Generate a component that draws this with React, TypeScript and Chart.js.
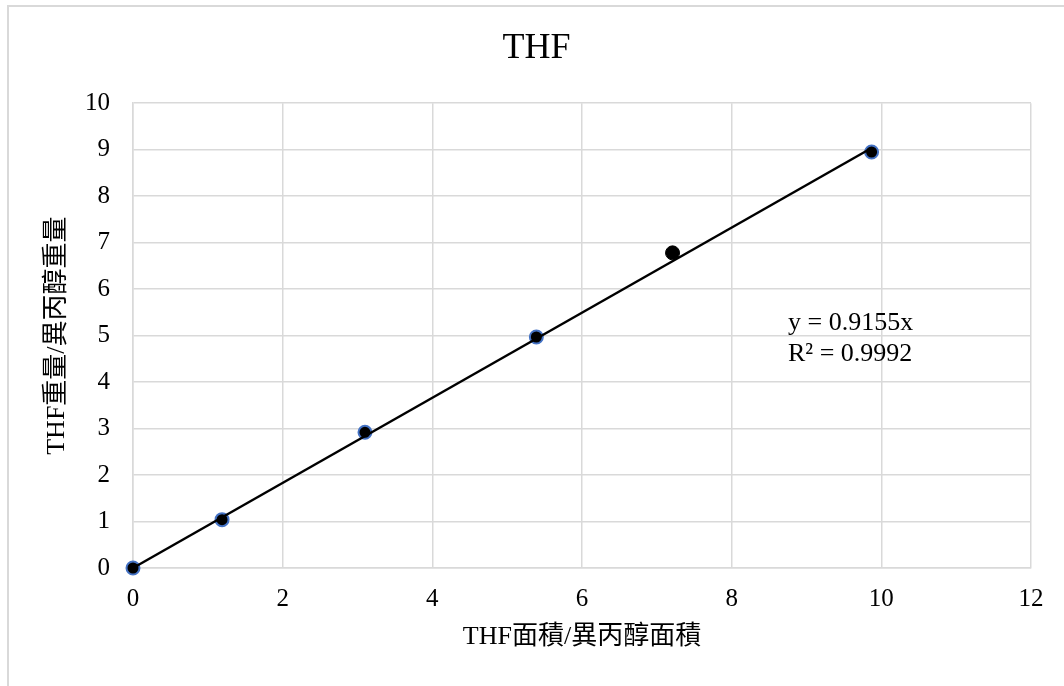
import { useEffect, useRef } from "react";
import { Chart, registerables } from "chart.js";

Chart.register(...registerables);

// Calibration points: THF area / IPA area vs THF weight / IPA weight
const areaRatios = [0, 1.19, 3.1, 5.39, 7.21, 9.87];
const weightRatios = [0, 1.04, 2.92, 4.97, 6.78, 8.95];

// Linear fit through the origin
const slope = 0.9155;
const rSquared = 0.9992;

// Axis ranges and tick steps
const xTicks = { min: 0, max: 12, step: 2 };
const yTicks = { min: 0, max: 10, step: 1 };

const chartTitle = "THF";
const xTitle = "THF面積/異丙醇面積";
const yTitle = "THF重量/異丙醇重量";

const SERIF = '"Liberation Serif", "Times New Roman", serif';
const LABEL_FONT = '"Liberation Serif", "Noto Sans CJK TC", serif';
const GRID = "#d9d9d9";
const MARKER_RING = "#4472C4";
const UNRINGED_POINT = 4;

const equationLabel = {
  id: "equationLabel",
  afterDatasetsDraw(chart: Chart) {
    const { ctx, chartArea } = chart;
    ctx.save();
    ctx.font = `26px ${SERIF}`;
    ctx.fillStyle = "#000000";
    ctx.textAlign = "left";
    ctx.textBaseline = "alphabetic";
    const x = chartArea.left + 655;
    const y = chartArea.top + 227;
    ctx.fillText(`y = ${slope}x`, x, y);
    ctx.fillText(`R² = ${rSquared}`, x, y + 31);
    ctx.restore();
  },
};

export default function App() {
  const canvasRef = useRef<HTMLCanvasElement | null>(null);

  useEffect(() => {
    const canvas = canvasRef.current;
    if (!canvas) return;

    const points = areaRatios.map((x, i) => ({ x, y: weightRatios[i] }));
    const xEnd = Math.max(...areaRatios);
    const fitLine = [
      { x: 0, y: 0 },
      { x: xEnd, y: slope * xEnd },
    ];

    const chart = new Chart(canvas, {
      type: "scatter",
      data: {
        datasets: [
          {
            label: "線性 (THF)",
            data: fitLine,
            showLine: true,
            borderColor: "#000000",
            borderWidth: 2.5,
            pointRadius: 0,
            fill: false,
            clip: false,
          },
          {
            label: "THF",
            data: points,
            clip: false,
            backgroundColor: "#000000",
            pointRadius: (c: any) => (c.dataIndex === UNRINGED_POINT ? 7 : 6.5),
            pointBorderWidth: (c: any) => (c.dataIndex === UNRINGED_POINT ? 1 : 2),
            pointBorderColor: (c: any) =>
              c.dataIndex === UNRINGED_POINT ? "#000000" : MARKER_RING,
          },
        ],
      },
      options: {
        responsive: false,
        animation: false,
        layout: { padding: { left: 42, right: 33, top: 0, bottom: 33 } },
        plugins: {
          legend: { display: false },
          tooltip: { enabled: false },
          title: {
            display: true,
            text: chartTitle,
            color: "#000000",
            font: { family: SERIF, size: 36, weight: "normal" },
            padding: { top: 27, bottom: 33 },
          },
        },
        scales: {
          x: {
            type: "linear",
            min: xTicks.min,
            max: xTicks.max,
            ticks: {
              stepSize: xTicks.step,
              color: "#000000",
              font: { family: SERIF, size: 25 },
              padding: 16,
            },
            grid: { color: GRID, lineWidth: 1.5, drawTicks: false },
            border: { color: GRID, width: 1.5 },
            title: {
              display: true,
              text: xTitle,
              color: "#000000",
              font: { family: LABEL_FONT, size: 26 },
              padding: 0,
            },
            afterFit: (s: any) => {
              s.height = 85;
            },
          },
          y: {
            type: "linear",
            min: yTicks.min,
            max: yTicks.max,
            ticks: {
              stepSize: yTicks.step,
              color: "#000000",
              font: { family: SERIF, size: 25 },
              padding: 23,
            },
            grid: { color: GRID, lineWidth: 1.5, drawTicks: false },
            border: { color: GRID, width: 1.5 },
            title: {
              display: true,
              text: yTitle,
              color: "#000000",
              font: { family: LABEL_FONT, size: 26 },
              padding: 0,
            },
            afterFit: (s: any) => {
              s.width = 91;
            },
          },
        },
      },
      plugins: [equationLabel],
    } as any);

    return () => chart.destroy();
  }, []);

  return (
    <div
      style={{
        position: "fixed",
        left: 0,
        top: 0,
        width: 1064,
        height: 686,
        background: "#ffffff",
        overflow: "hidden",
      }}
    >
      <canvas ref={canvasRef} width={1064} height={686} style={{ display: "block" }} />
      <div
        style={{
          position: "absolute",
          left: 7,
          top: 5,
          right: 0,
          bottom: 0,
          borderLeft: `2px solid ${GRID}`,
          borderTop: `2px solid ${GRID}`,
          pointerEvents: "none",
        }}
      />
    </div>
  );
}
